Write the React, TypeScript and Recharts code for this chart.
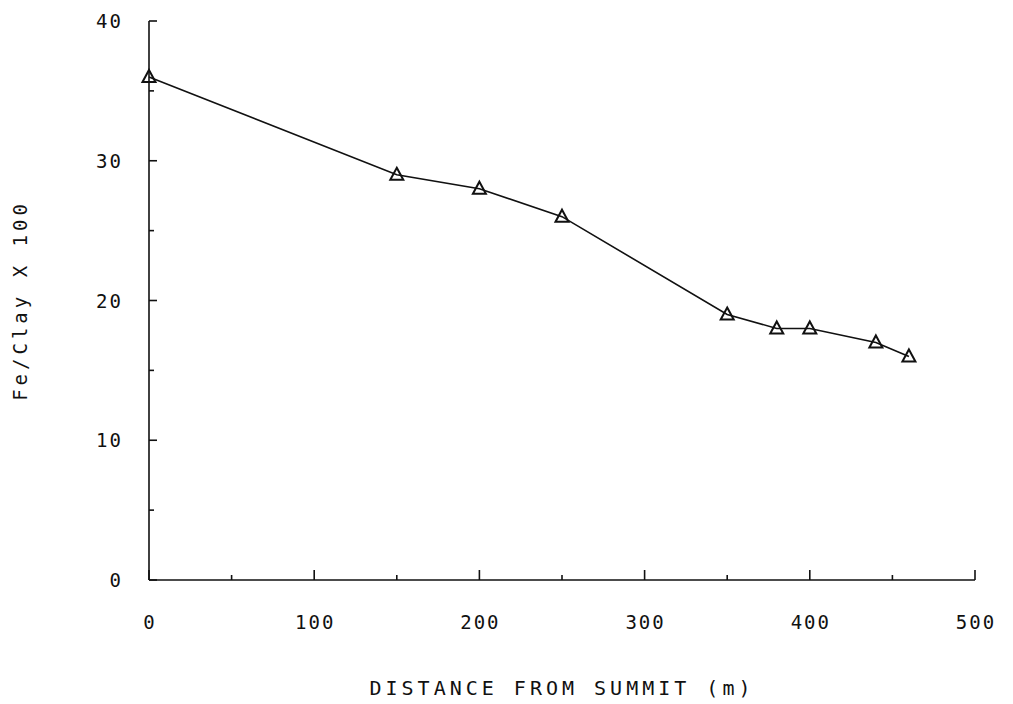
import { LineChart, Line, XAxis, YAxis, Label } from "recharts";

const distance = [0, 150, 200, 250, 350, 380, 400, 440, 460];
const ratio = [36, 29, 28, 26, 19, 18, 18, 17, 16];
const xTicks = [0, 50, 100, 150, 200, 250, 300, 350, 400, 450, 500];
const yTicks = [0, 5, 10, 15, 20, 25, 30, 35, 40];

const data = distance.map((d, i) => ({ distance: d, ratio: ratio[i] }));

const FONT = "'DejaVu Sans Mono', 'Liberation Mono', monospace";
const INK = "#111";

const fmt = (v: number) => String(v);

const YTick = (props: any) => {
  const { x, y, payload } = props;
  const major = payload.value % 10 === 0;
  return (
    <g>
      <line x1={x} x2={x + (major ? 8 : 5)} y1={y} y2={y} stroke={INK} strokeWidth={1.6} />
      {major && (
        <text
          x={x - 26}
          y={y + 7}
          textAnchor="end"
          fontFamily={FONT}
          fontSize={19}
          letterSpacing={2}
          fill={INK}
        >
          {fmt(payload.value)}
        </text>
      )}
    </g>
  );
};

const XTick = (props: any) => {
  const { x, y, payload } = props;
  const major = payload.value % 100 === 0;
  return (
    <g>
      <line x1={x} x2={x} y1={y} y2={y - (major ? 10 : 5)} stroke={INK} strokeWidth={1.6} />
      {major && (
        <text
          x={x + 1}
          y={y + 49}
          textAnchor="middle"
          fontFamily={FONT}
          fontSize={19}
          letterSpacing={2}
          fill={INK}
        >
          {fmt(payload.value)}
        </text>
      )}
    </g>
  );
};

const Triangle = (props: any) => {
  const { cx, cy } = props;
  if (cx == null || cy == null) return null;
  return (
    <path
      d={`M${cx},${cy - 7} L${cx + 6.5},${cy + 5} L${cx - 6.5},${cy + 5} Z`}
      fill="none"
      stroke={INK}
      strokeWidth={2}
    />
  );
};

const App = () => {
  return (
    <div style={{ position: "absolute", left: 0, top: 0, background: "#fff" }}>
      <LineChart
        width={1013}
        height={704}
        data={data}
        margin={{ top: 21, right: 38, bottom: 0, left: 0 }}
      >
        <XAxis
          dataKey="distance"
          type="number"
          domain={[0, 500]}
          ticks={xTicks}
          interval={0}
          tickSize={0}
          tickMargin={0}
          tickLine={false}
          tick={<XTick />}
          axisLine={{ stroke: INK, strokeWidth: 1.6 }}
          height={124}
        >
          <Label
            value="DISTANCE FROM SUMMIT (m)"
            position="insideBottom"
            offset={9}
            style={{ fontFamily: FONT, fontSize: 20, letterSpacing: 4, fill: INK }}
          />
        </XAxis>
        <YAxis
          type="number"
          domain={[0, 40]}
          ticks={yTicks}
          interval={0}
          tickSize={0}
          tickMargin={0}
          tickLine={false}
          tick={<YTick />}
          axisLine={{ stroke: INK, strokeWidth: 1.6 }}
          width={149}
        >
          <Label
            value="Fe/Clay X 100"
            angle={-90}
            position="insideLeft"
            offset={20}
            style={{ fontFamily: FONT, fontSize: 19, letterSpacing: 4, fill: INK, textAnchor: "middle" }}
          />
        </YAxis>
        <Line
          dataKey="ratio"
          stroke={INK}
          strokeWidth={1.6}
          dot={<Triangle />}
          activeDot={false}
          isAnimationActive={false}
        />
      </LineChart>
    </div>
  );
};

export default App;
